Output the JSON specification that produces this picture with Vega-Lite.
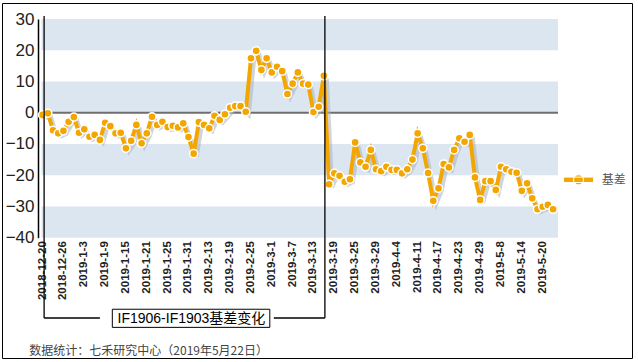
{
  "$schema": "https://vega.github.io/schema/vega-lite/v6.json",
  "width": 630,
  "height": 355,
  "autosize": {"type": "none"},
  "padding": {"left": 2, "top": 3, "right": 6, "bottom": 4},
  "background": "white",
  "config": {
    "view": {"stroke": "#000000", "strokeWidth": 1},
    "font": "Liberation Sans",
    "axis": {"grid": false, "ticks": false, "labelFont": "Liberation Sans"},
    "axisY": {"offset": -36, "labelFontSize": 17, "labelColor": "#222222", "domainColor": "#000000", "domainWidth": 1.5, "labelPadding": 4},
    "axisX": {"labelAngle": 270, "labelFontSize": 11.5, "labelFontWeight": "bold", "labelColor": "#222222", "domain": false, "labelPadding": 3, "labelOverlap": false}
  },
  "resolve": {"scale": {"x": "independent"}, "axis": {"x": "independent"}},
  "layer": [
    {
      "layer": [
        {
          "data": {"values": [{"lo": 20, "hi": 30}, {"lo": 0, "hi": 10}, {"lo": -20, "hi": -10}, {"lo": -40, "hi": -30}]},
          "mark": {"type": "rect", "color": "#DCE6F1"},
          "encoding": {
            "x": {"datum": 0, "type": "quantitative", "scale": {"domain": [0, 1], "range": [39.5, 556]}, "axis": null},
            "x2": {"datum": 1},
            "y": {"field": "lo", "type": "quantitative", "scale": {"domain": [-40, 30], "range": [234.7, 16], "nice": false, "zero": false}, "axis": {"values": [-40, -30, -20, -10, 0, 10, 20, 30], "title": null}},
            "y2": {"field": "hi"}
          }
        },
        {
          "data": {"values": [{}]},
          "mark": {"type": "rule", "color": "#6E6E6E", "strokeWidth": 2},
          "encoding": {
            "x": {"datum": 0, "type": "quantitative"},
            "x2": {"datum": 1},
            "y": {"datum": 0, "type": "quantitative"}
          }
        }
      ]
    },
    {
      "data": {"values": [
        {"date": "2018-12-20", "value": -0.7}, {"date": "2018-12-21", "value": -0.2}, {"date": "2018-12-24", "value": -5.6}, {"date": "2018-12-25", "value": -6.6}, {"date": "2018-12-26", "value": -5.8},
        {"date": "2018-12-27", "value": -2.9}, {"date": "2018-12-28", "value": -1.4}, {"date": "2019-1-2", "value": -6.4}, {"date": "2019-1-3", "value": -5.3}, {"date": "2019-1-4", "value": -7.7},
        {"date": "2019-1-7", "value": -7.1}, {"date": "2019-1-8", "value": -8.7}, {"date": "2019-1-9", "value": -3.2}, {"date": "2019-1-10", "value": -4.3}, {"date": "2019-1-11", "value": -6.6},
        {"date": "2019-1-14", "value": -6.4}, {"date": "2019-1-15", "value": -11.4}, {"date": "2019-1-16", "value": -9.0}, {"date": "2019-1-17", "value": -3.9}, {"date": "2019-1-18", "value": -9.8},
        {"date": "2019-1-21", "value": -6.6}, {"date": "2019-1-22", "value": -1.3}, {"date": "2019-1-23", "value": -3.9}, {"date": "2019-1-24", "value": -2.9}, {"date": "2019-1-25", "value": -4.6},
        {"date": "2019-1-28", "value": -4.2}, {"date": "2019-1-29", "value": -4.7}, {"date": "2019-1-30", "value": -3.4}, {"date": "2019-1-31", "value": -7.8}, {"date": "2019-2-1", "value": -13.1},
        {"date": "2019-2-11", "value": -3.0}, {"date": "2019-2-12", "value": -3.9}, {"date": "2019-2-13", "value": -5.0}, {"date": "2019-2-14", "value": -1.0}, {"date": "2019-2-15", "value": -2.3},
        {"date": "2019-2-18", "value": -0.5}, {"date": "2019-2-19", "value": 1.6}, {"date": "2019-2-20", "value": 2.1}, {"date": "2019-2-21", "value": 2.1}, {"date": "2019-2-22", "value": 0.3},
        {"date": "2019-2-25", "value": 17.4}, {"date": "2019-2-26", "value": 19.8}, {"date": "2019-2-27", "value": 13.7}, {"date": "2019-2-28", "value": 17.4}, {"date": "2019-3-1", "value": 12.9},
        {"date": "2019-3-4", "value": 14.7}, {"date": "2019-3-5", "value": 13.3}, {"date": "2019-3-6", "value": 6.0}, {"date": "2019-3-7", "value": 9.3}, {"date": "2019-3-8", "value": 12.9},
        {"date": "2019-3-11", "value": 9.3}, {"date": "2019-3-12", "value": 9.0}, {"date": "2019-3-13", "value": 0.2}, {"date": "2019-3-14", "value": 1.9}, {"date": "2019-3-15", "value": 11.8},
        {"date": "2019-3-18", "value": -22.9}, {"date": "2019-3-19", "value": -19.4}, {"date": "2019-3-20", "value": -20.2}, {"date": "2019-3-21", "value": -22.1}, {"date": "2019-3-22", "value": -21.3},
        {"date": "2019-3-25", "value": -9.5}, {"date": "2019-3-26", "value": -15.9}, {"date": "2019-3-27", "value": -17.3}, {"date": "2019-3-28", "value": -11.9}, {"date": "2019-3-29", "value": -18.1},
        {"date": "2019-4-1", "value": -18.7}, {"date": "2019-4-2", "value": -17.3}, {"date": "2019-4-3", "value": -18.3}, {"date": "2019-4-4", "value": -18.3}, {"date": "2019-4-8", "value": -19.4},
        {"date": "2019-4-9", "value": -18.1}, {"date": "2019-4-10", "value": -15.0}, {"date": "2019-4-11", "value": -6.6}, {"date": "2019-4-12", "value": -11.4}, {"date": "2019-4-15", "value": -19.3},
        {"date": "2019-4-16", "value": -28.2}, {"date": "2019-4-17", "value": -24.2}, {"date": "2019-4-18", "value": -16.4}, {"date": "2019-4-19", "value": -17.5}, {"date": "2019-4-22", "value": -11.9},
        {"date": "2019-4-23", "value": -8.2}, {"date": "2019-4-24", "value": -9.3}, {"date": "2019-4-25", "value": -7.1}, {"date": "2019-4-26", "value": -20.7}, {"date": "2019-4-29", "value": -27.9},
        {"date": "2019-4-30", "value": -21.9}, {"date": "2019-5-6", "value": -21.9}, {"date": "2019-5-7", "value": -24.7}, {"date": "2019-5-8", "value": -17.3}, {"date": "2019-5-9", "value": -18.1},
        {"date": "2019-5-10", "value": -18.9}, {"date": "2019-5-13", "value": -19.2}, {"date": "2019-5-14", "value": -25.0}, {"date": "2019-5-15", "value": -22.6}, {"date": "2019-5-16", "value": -27.4},
        {"date": "2019-5-17", "value": -30.9}, {"date": "2019-5-20", "value": -30.1}, {"date": "2019-5-21", "value": -29.5}, {"date": "2019-5-22", "value": -30.9}
      ]},
      "layer": [
        {
          "mark": {"type": "line", "color": "#A9B2BD", "opacity": 0.55, "strokeWidth": 4, "xOffset": 3, "yOffset": 3},
          "encoding": {
            "x": {"field": "date", "type": "nominal", "sort": null, "scale": {"range": [38, 553.7], "padding": 0},
              "axis": {"title": null, "orient": "bottom", "offset": -120.3, "values": ["2018-12-20", "2018-12-26", "2019-1-3", "2019-1-9", "2019-1-15", "2019-1-21", "2019-1-25", "2019-1-31", "2019-2-13", "2019-2-19", "2019-2-25", "2019-3-1", "2019-3-7", "2019-3-13", "2019-3-19", "2019-3-25", "2019-3-29", "2019-4-4", "2019-4-11", "2019-4-17", "2019-4-23", "2019-4-29", "2019-5-8", "2019-5-14", "2019-5-20"]}},
            "y": {"field": "value", "type": "quantitative", "axis": {"title": null}}
          }
        },
        {
          "mark": {"type": "line", "color": "#F3A600", "strokeWidth": 4},
          "encoding": {
            "x": {"field": "date", "type": "nominal", "sort": null},
            "y": {"field": "value", "type": "quantitative", "axis": {"title": null}}
          }
        },
        {
          "mark": {"type": "point", "shape": "circle", "filled": true, "size": 66, "stroke": "white", "strokeWidth": 1.5, "opacity": 1},
          "encoding": {
            "x": {"field": "date", "type": "nominal", "sort": null},
            "y": {"field": "value", "type": "quantitative", "axis": {"title": null}},
            "color": {"datum": "基差", "scale": {"range": ["#F3A600"]},
              "legend": {"title": null, "orient": "none", "legendX": 566, "legendY": 166.3,
                "symbolType": "M-1.5,-0.27H1.5V0.27H-1.5Z M0.5,0A0.5,0.5,0,1,1,-0.5,0A0.5,0.5,0,1,1,0.5,0Z",
                "symbolSize": 400, "symbolStrokeColor": "white", "symbolStrokeWidth": 1, "labelOffset": 12.7,
                "labelFontSize": 12, "labelFont": "Noto Sans CJK SC", "labelColor": "#555555"}}
          }
        },
        {
          "data": {"values": [{}]},
          "mark": {"type": "rule", "color": "#000000", "strokeWidth": 1.3, "xOffset": 1.5},
          "encoding": {"x": {"datum": "2018-12-20"}, "y": {"datum": 31}, "y2": {"datum": -65.7}}
        },
        {
          "data": {"values": [{}]},
          "mark": {"type": "rule", "color": "#000000", "strokeWidth": 1.3, "xOffset": 1},
          "encoding": {"x": {"datum": "2019-3-15"}, "y": {"datum": 31}, "y2": {"datum": -65.7}}
        },
        {
          "data": {"values": [{}]},
          "mark": {"type": "rule", "color": "#000000", "strokeWidth": 1.3, "xOffset": 1.5, "x2Offset": 0},
          "encoding": {"x": {"datum": "2018-12-20"}, "x2": {"datum": "2019-1-8"}, "y": {"datum": -65.7}}
        },
        {
          "data": {"values": [{}]},
          "mark": {"type": "rule", "color": "#000000", "strokeWidth": 1.3, "xOffset": 2, "x2Offset": 1},
          "encoding": {"x": {"datum": "2019-3-1"}, "x2": {"datum": "2019-3-15"}, "y": {"datum": -65.7}}
        },
        {
          "data": {"values": [{}]},
          "mark": {"type": "rect", "fill": "white", "stroke": "#000000", "strokeWidth": 1, "xOffset": 2, "x2Offset": -2},
          "encoding": {"x": {"datum": "2019-1-10"}, "x2": {"datum": "2019-3-1"}, "y": {"datum": -62.9}, "y2": {"datum": -68.7}}
        },
        {
          "data": {"values": [{}]},
          "mark": {"type": "text", "fontSize": 14, "font": "Liberation Sans, Noto Sans CJK SC", "color": "#000000", "dx": 3, "align": "center", "baseline": "middle"},
          "encoding": {"x": {"datum": "2019-1-31"}, "y": {"datum": -65.9}, "text": {"value": "IF1906-IF1903基差变化"}}
        },
        {
          "data": {"values": [{}]},
          "mark": {"type": "text", "fontSize": 12, "font": "Noto Sans CJK SC", "color": "#444444", "dx": -13.3, "align": "left", "baseline": "middle"},
          "encoding": {"x": {"datum": "2018-12-20"}, "y": {"datum": -76.3}, "text": {"value": "数据统计：七禾研究中心（2019年5月22日）"}}
        }
      ]
    }
  ]
}
